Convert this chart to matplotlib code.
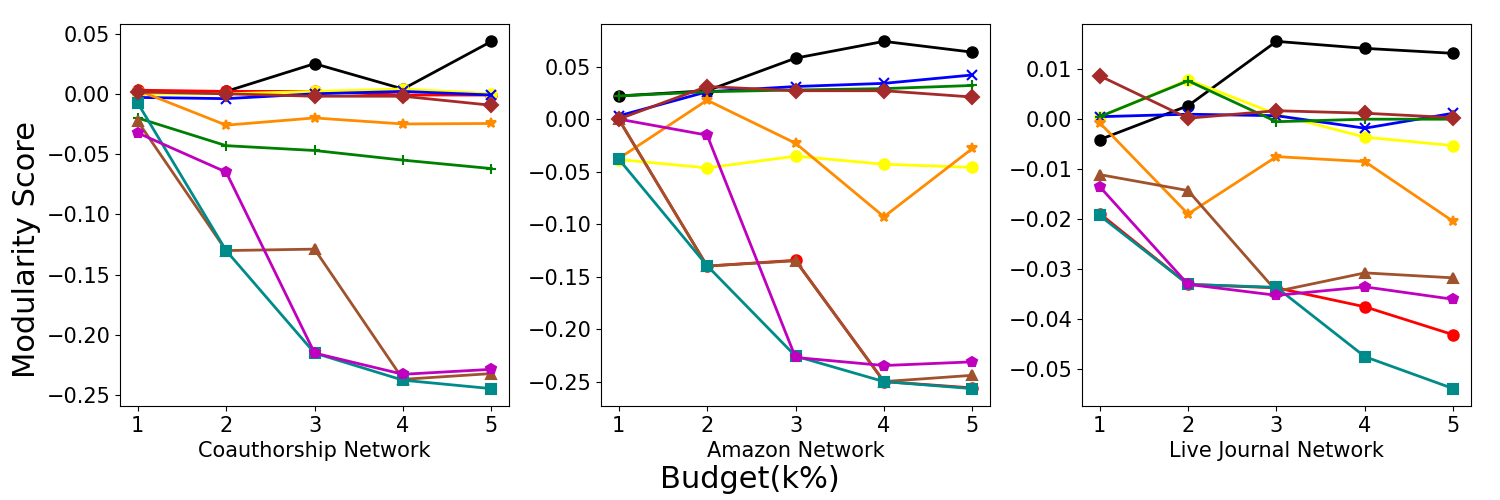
import matplotlib
matplotlib.use("Agg")
import matplotlib.pyplot as plt

budget = [1, 2, 3, 4, 5]
networks = ["Coauthorship Network", "Amazon Network", "Live Journal Network"]

# series per network (Coauthorship, Amazon, Live Journal)
black = [[0.001, 0.002, 0.025, 0.004, 0.0435],
         [0.022, 0.027, 0.058, 0.074, 0.0637],
         [-0.0041, 0.0027, 0.0156, 0.0142, 0.0132]]
blue = [[-0.003, -0.004, 0.000, 0.002, -0.001],
        [0.003, 0.026, 0.031, 0.034, 0.042],
        [0.0005, 0.0010, 0.0007, -0.0018, 0.0012]]
green = [[-0.020, -0.043, -0.047, -0.055, -0.062],
         [0.022, 0.026, 0.0277, 0.029, 0.032],
         [0.0005, 0.0077, -0.0005, 0.000, 0.000]]
yellow = [[0.000, 0.000, 0.002, 0.004, 0.000],
          [-0.0385, -0.0465, -0.0353, -0.043, -0.046],
          [0.0004, 0.0079, 0.0010, -0.0036, -0.0053]]
orange = [[0.003, -0.026, -0.020, -0.025, -0.0246],
          [-0.0376, 0.018, -0.023, -0.093, -0.028],
          [-0.0007, -0.0190, -0.0075, -0.0085, -0.0205]]
red = [[0.003, 0.002, 0.002, -0.001, -0.001],
       [0.000, -0.140, -0.1345, -0.250, -0.256],
       [-0.0189, -0.0331, -0.0338, -0.0376, -0.0432]]
sienna = [[-0.0227, -0.130, -0.1288, -0.2368, -0.232],
          [0.000, -0.140, -0.1349, -0.250, -0.244],
          [-0.0111, -0.0143, -0.0345, -0.0308, -0.0318]]
teal = [[-0.0076, -0.130, -0.215, -0.2375, -0.2445],
        [-0.038, -0.1396, -0.2257, -0.250, -0.2567],
        [-0.0193, -0.0331, -0.0337, -0.0476, -0.0540]]
magenta = [[-0.0324, -0.0649, -0.215, -0.2326, -0.2285],
           [0.000, -0.0153, -0.227, -0.2347, -0.2312],
           [-0.0135, -0.0331, -0.0353, -0.0336, -0.0361]]
brown = [[0.0015, 0.000, -0.002, -0.002, -0.0095],
         [0.000, 0.031, 0.027, 0.027, 0.021],
         [0.0087, 0.0002, 0.0017, 0.0012, 0.0003]]

series = [
    (black, "black", "o"),
    (red, "red", "o"),
    (yellow, "yellow", "o"),
    (blue, "blue", "x"),
    (green, "green", "+"),
    (orange, "darkorange", "*"),
    (sienna, "sienna", "^"),
    (teal, "darkcyan", "s"),
    (magenta, "m", "p"),
    (brown, "brown", "D"),
]

fig, axes = plt.subplots(1, 3, figsize=(15, 5), dpi=100)
fig.subplots_adjust(left=0.08, right=0.9807, bottom=0.188, top=0.952, wspace=0.236)

for i, ax in enumerate(axes):
    for data, color, marker in series:
        ax.plot(budget, data[i], color=color, marker=marker, linewidth=2,
                markersize=7.5, markeredgewidth=1.5)
    ax.set_xticks(budget)
    ax.tick_params(labelsize=15)
    ax.set_xlabel(networks[i], fontsize=15)

fig.text(0.008, 0.5, "Modularity Score", rotation=90, va="center", ha="left", fontsize=22)
fig.text(0.5, 0.04, "Budget(k%)", ha="center", va="center", fontsize=22)

fig.savefig("out.png", dpi=100)
